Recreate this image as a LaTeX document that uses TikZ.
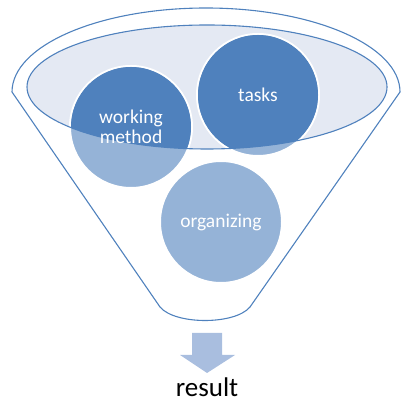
\documentclass[tikz,border=0pt]{standalone}
\usepackage{fontspec}
\setmainfont{Carlito}
\definecolor{funnelblue}{RGB}{79,129,189}
\definecolor{ballblue}{RGB}{149,179,215}
\definecolor{rimfill}{RGB}{228,233,243}
\definecolor{arrowblue}{RGB}{169,190,223}
\tikzset{
  ball/.style={circle,minimum size=122pt,inner sep=0pt,fill=ballblue,draw=white,line width=2pt},
  balltext/.style={text=white,font=\fontsize{19.5}{20}\selectfont,align=center},
  funnelline/.style={draw=funnelblue,line width=1.1pt}
}
\begin{document}
\begin{tikzpicture}[x=1pt,y=1pt]
    \useasboundingbox (0,0) rectangle (400,403);
    \coordinate (TL) at (12,311);
    \coordinate (BL) at (160,96);
    \coordinate (BR) at (250,96);
    \coordinate (R) at (207,316);
    % funnel body
    \draw[funnelline] (TL) arc[start angle=180,end angle=0,x radius=194pt,y radius=84pt] -- (BR)
        .. controls (235,78) and (175,78) .. (BL) -- cycle;
    \fill[rimfill] (R) ellipse[x radius=180pt,y radius=62pt];
    \node[ball] (method) at (131,276) {};
    \node[ball] (tasks) at (258,308) {};
    \node[ball] (organizing) at (221,181) {};
    % darker inside the rim
    \begin{scope}
        \clip (R) ellipse[x radius=180pt,y radius=62pt];
        \foreach \n in {method,tasks,organizing}
            \fill[funnelblue] (\n.center) circle[radius=60pt];
    \end{scope}
    \draw[funnelline] (R) ellipse[x radius=180pt,y radius=62pt];
    \node[balltext] (methodtext) at (method) {working\\method};
    \node[balltext] (taskstext) at (tasks) {tasks};
    \node[balltext] (organizingtext) at (organizing) {organizing};
    % result arrow
    \fill[arrowblue] (192,70) -- (222,70) -- (222,48) -- (235,48) -- (207,30) -- (180,48) -- (192,48) -- cycle;
    \node[anchor=base,font=\fontsize{27}{30}\selectfont] (result) at (207,6) {result};
\end{tikzpicture}
\end{document}
